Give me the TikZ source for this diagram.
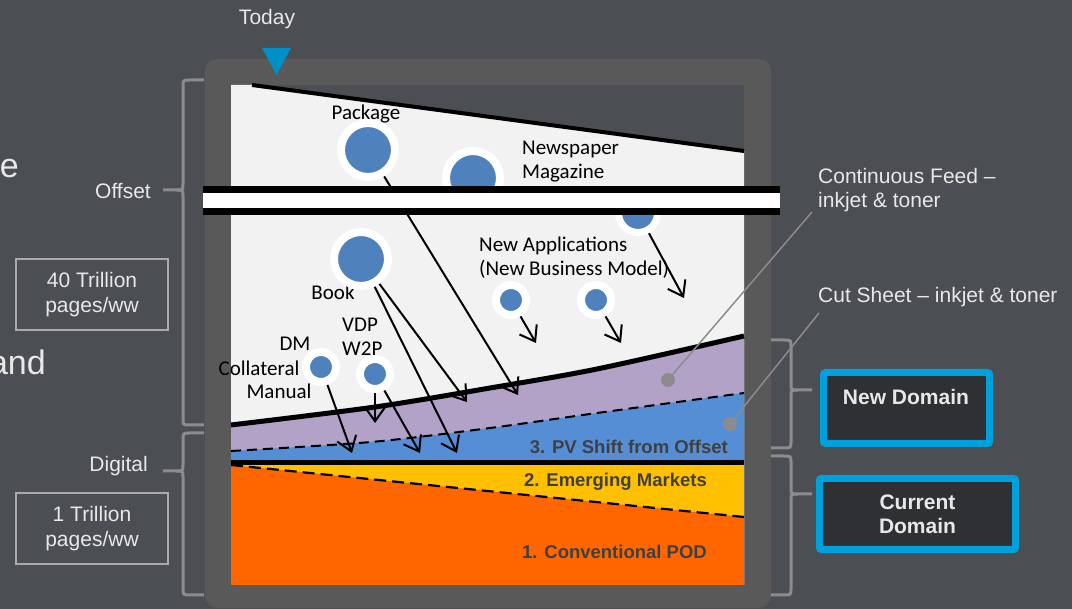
\documentclass[tikz,border=0pt]{standalone}
\usepackage{fontspec}
\setmainfont{Liberation Sans}
\newfontfamily\calfont{Carlito}
\usetikzlibrary{arrows.meta}
\definecolor{bg}{RGB}{75,78,83}
\definecolor{panel}{RGB}{89,89,89}
\definecolor{lightfill}{RGB}{242,242,242}
\definecolor{purplefill}{RGB}{178,162,199}
\definecolor{bluefill}{RGB}{85,142,213}
\definecolor{yellowfill}{RGB}{255,192,0}
\definecolor{orangefill}{RGB}{255,102,0}
\definecolor{dotblue}{RGB}{79,129,189}
\definecolor{accent}{RGB}{0,160,220}
\definecolor{boxfill}{RGB}{46,48,51}
\definecolor{lighttext}{RGB}{232,232,232}
\definecolor{bracegray}{RGB}{140,140,140}
\definecolor{boxgray}{RGB}{170,170,170}
\definecolor{darktext}{RGB}{64,64,64}
\begin{document}
\begin{tikzpicture}[x=1pt,y=-1pt,
  lbl/.style={text=lighttext, font=\fontsize{21}{24}\selectfont, inner sep=0pt},
  biglbl/.style={text=lighttext, font=\fontsize{34}{40}\selectfont, inner sep=0pt},
  inlbl/.style={font=\calfont\fontsize{21}{24}\selectfont, text=black, inner sep=0pt},
  regionlbl/.style={font=\bfseries\fontsize{18.5}{22}\selectfont, text=darktext, inner sep=0pt},
  bigdot/.style={circle, fill=dotblue, draw=white, line width=8pt, minimum size=54pt, inner sep=0pt},
  middot/.style={circle, fill=dotblue, draw=white, line width=7pt, minimum size=39pt, inner sep=0pt},
  smalldot/.style={circle, fill=dotblue, draw=white, line width=8pt, minimum size=30pt, inner sep=0pt},
  graydot/.style={circle, fill=bracegray, minimum size=14pt, inner sep=0pt},
  arr/.style={draw=black, line width=2pt, -{Straight Barb[length=14pt,width=20pt]}},
  leader/.style={draw=bracegray, line width=1.5pt},
  bracestyle/.style={draw=bracegray, line width=3pt},
  numbox/.style={draw=boxgray, line width=1.5pt, minimum width=152pt, minimum height=71pt, align=center, text=lighttext, font=\fontsize{21}{25}\selectfont, inner sep=0pt},
  domainbox/.style={draw=accent, fill=boxfill, line width=7pt, rounded corners=2pt, inner sep=0pt},
  domtext/.style={text=lighttext, font=\bfseries\fontsize{21}{24}\selectfont, align=center, inner sep=0pt}
]
\useasboundingbox (0,0) rectangle (1072,609);
\fill[bg] (0,0) rectangle (1072,609);
% panel
\fill[panel, rounded corners=12pt] (205,59) rectangle (771,608);
% inner regions
\fill[bg] (231,85) rectangle (744,585);
\fill[lightfill] (231,85) -- (252,85) -- (744,151) -- (744,585) -- (231,585) -- cycle;
\fill[purplefill] plot[smooth] coordinates {(231,425) (375,407) (490,388) (597,369) (744,336)} -- (744,585) -- (231,585) -- cycle;
\fill[bluefill] plot[smooth] coordinates {(231,451) (371,442) (490,428) (597,413) (744,393)} -- (744,585) -- (231,585) -- cycle;
\fill[yellowfill] (231,463) rectangle (744,585);
\fill[orangefill] (231,465) -- (744,517) -- (744,585) -- (231,585) -- cycle;
% lines
\draw[line width=4pt] (252,85) -- (744,151);
\draw[line width=5pt] plot[smooth] coordinates {(231,425) (375,407) (490,388) (597,369) (744,336)};
\draw[line width=2pt, dash pattern=on 10pt off 6pt] plot[smooth] coordinates {(231,451) (371,442) (490,428) (597,413) (744,393)};
\draw[line width=5pt] (231,463) -- (744,463);
\draw[line width=2.2pt, dash pattern=on 12pt off 6pt] (231,465) -- (744,517);
% inner labels
\node[inlbl] (pkglbl) at (366,114) {Package};
\node[inlbl, align=left, anchor=west] (newslbl) at (522,162) {Newspaper\\Magazine};
\node[inlbl, align=left, anchor=west] (applbl) at (479,258) {New Applications\\(New Business Model)};
\node[inlbl] (booklbl) at (333,292) {Book};
\node[inlbl, align=left, anchor=west] (vdplbl) at (342,337) {VDP\\W2P};
\node[inlbl] (dmlbl) at (295,344) {DM};
\node[inlbl] (coll) at (259,368) {Collateral};
\node[inlbl] (manual) at (279,391) {Manual};
% circles
\node[bigdot] (pkg) at (368,150) {};
\node[bigdot] (news) at (473,178) {};
\node[middot] (hidden) at (638,213) {};
\node[bigdot] (book) at (361,259) {};
\node[smalldot] (app1) at (511,300) {};
\node[smalldot] (app2) at (596,300) {};
\node[smalldot] (dm) at (321,367) {};
\node[smalldot] (vdp) at (375,374) {};
% arrow ends
\coordinate (pkgE) at (518,395);
\coordinate (bookE1) at (467,402);
\coordinate (bookE2) at (457,453);
\coordinate (vdpE1) at (375,423);
\coordinate (vdpE2) at (420,453);
\coordinate (dmE) at (352,453);
\coordinate (app1E) at (536,343);
\coordinate (app2E) at (621,343);
\coordinate (hidE) at (684,298);
\draw[arr] (pkg) -- (pkgE);
\draw[arr] (book) -- (bookE1);
\draw[arr] (book) -- (bookE2);
\draw[arr] (vdp) -- (vdpE1);
\draw[arr] (vdp) -- (vdpE2);
\draw[arr] (dm) -- (dmE);
\draw[arr] (app1) -- (app1E);
\draw[arr] (app2) -- (app2E);
\draw[arr] (hidden) -- (hidE);
% band
\fill[black] (203,186) rectangle (780,215);
\fill[white] (203,193) rectangle (780,208);
% region labels
\node[regionlbl, anchor=east] (pv) at (728,447) {3. PV Shift from Offset};
\node[regionlbl, anchor=east] (em) at (707,482) {2. Emerging Markets};
\node[regionlbl, anchor=east] (pod) at (707,552) {1. Conventional POD};
% gray dots and leaders
\node[graydot] (cfdot) at (668,380) {};
\node[graydot] (csdot) at (730,424) {};
\coordinate (cfend) at (812,212);
\coordinate (csend) at (819,313);
\draw[leader] (cfdot) -- (cfend);
\draw[leader] (csdot) -- (csend);
\node[lbl, align=left, anchor=west] (cflbl) at (818,190.5) {Continuous Feed --\\inkjet \& toner};
\node[lbl, anchor=west] (cslbl) at (818,297.5) {Cut Sheet -- inkjet \& toner};
% today marker
\node[lbl] (today) at (267,19.5) {Today};
\fill[accent!90!black] (262,48) -- (291,48) -- (276.5,75) -- cycle;
% left labels
\node[biglbl, anchor=base east] (etxt) at (19,178) {e};
\node[biglbl, anchor=base east] (andtxt) at (46,375) {and};
\node[lbl, anchor=east] (offset) at (151,191.5) {Offset};
\node[lbl, anchor=east] (digital) at (148,466.5) {Digital};
\node[numbox] (tril40) at (92,294.5) {40 Trillion\\pages/ww};
\node[numbox] (tril1) at (92,528.5) {1 Trillion\\pages/ww};
% left braces
\draw[bracestyle] (204,80) -- (190,80) .. controls (183,80) .. (183,87) -- (183,184) .. controls (183,190) .. (176,190) -- (163,190);
\draw[bracestyle] (176,190) .. controls (183,190) .. (183,196) -- (183,418) .. controls (183,425) .. (190,425) -- (204,425);
\draw[bracestyle] (204,433) -- (190,433) .. controls (183,433) .. (183,440) -- (183,465) .. controls (183,471) .. (176,471) -- (163,471);
\draw[bracestyle] (176,471) .. controls (183,471) .. (183,477) -- (183,588) .. controls (183,595) .. (190,595) -- (204,595);
% right braces
\draw[bracestyle] (771,340) -- (784,340) .. controls (791,340) .. (791,347) -- (791,384) .. controls (791,390) .. (798,390) -- (812,390);
\draw[bracestyle] (798,390) .. controls (791,390) .. (791,396) -- (791,441) .. controls (791,448) .. (784,448) -- (771,448);
\draw[bracestyle] (771,456) -- (784,456) .. controls (791,456) .. (791,463) -- (791,488) .. controls (791,494) .. (798,494) -- (812,494);
\draw[bracestyle] (798,494) .. controls (791,494) .. (791,500) -- (791,588) .. controls (791,595) .. (784,595) -- (771,595);
% domain boxes
\node[domainbox, minimum width=166pt, minimum height=71pt] (newdom) at (906.5,408) {};
\node[domtext] (newdomtxt) at (906,397) {New Domain};
\node[domainbox, minimum width=196pt, minimum height=71pt, domtext] (curdom) at (917.5,514) {Current\\Domain};
\end{tikzpicture}
\end{document}
